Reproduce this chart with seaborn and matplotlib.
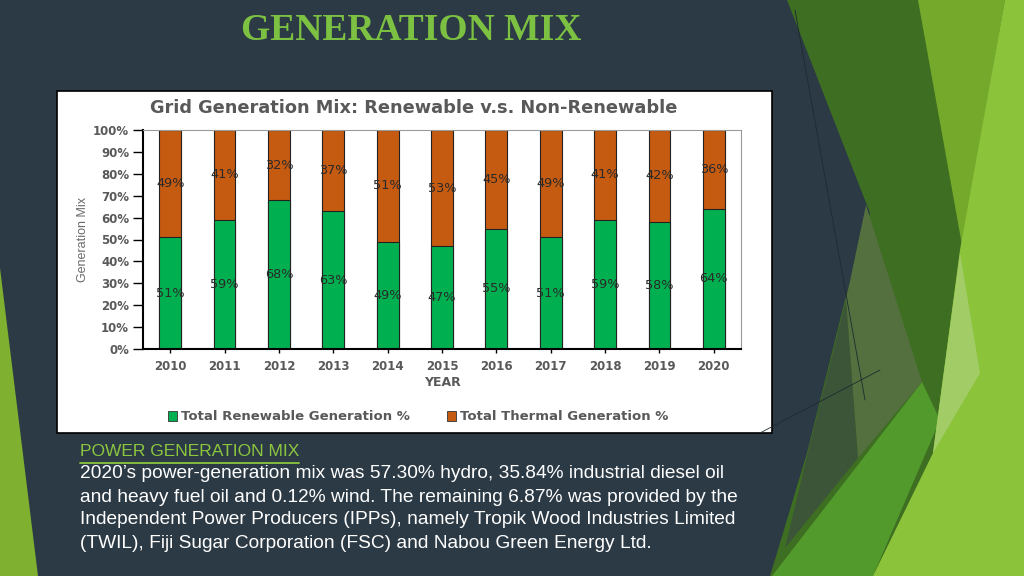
import matplotlib
matplotlib.use("Agg")
import matplotlib.pyplot as plt
from matplotlib.patches import Polygon, Rectangle, Patch
import seaborn as sns
import pandas as pd

# chart data
years = ["2010", "2011", "2012", "2013", "2014", "2015", "2016", "2017", "2018", "2019", "2020"]
renewable = [51, 59, 68, 63, 49, 47, 55, 51, 59, 58, 64]
thermal = [49, 41, 32, 37, 51, 53, 45, 49, 41, 42, 36]
y_ticks = [0, 10, 20, 30, 40, 50, 60, 70, 80, 90, 100]

GREEN = "#00b050"
ORANGE = "#c55a11"
GRAY = "#595959"
NAVY = "#2c3a45"

df = pd.DataFrame({"year": years, "renewable": renewable, "thermal": thermal})
df["total"] = df.renewable + df.thermal

sns.set_theme(style="white")
plt.rcParams["font.family"] = ["DejaVu Sans"]

fig = plt.figure(figsize=(10.24, 5.76), dpi=100)
fig.patch.set_facecolor(NAVY)

# slide background (pixel coords)
bg = fig.add_axes([0, 0, 1, 1])
bg.set_xlim(0, 1024)
bg.set_ylim(576, 0)
bg.axis("off")
shapes = [
    ([(787, 0), (1024, 0), (1024, 576), (770, 576), (783, 533), (807, 453), (845, 300), (870, 213)], "#3e6e22"),
    ([(866, 205), (922, 382), (858, 458), (846, 300)], "#53703e"),
    ([(846, 300), (858, 458), (785, 548), (808, 452)], "#3c5538"),
    ([(922, 382), (940, 420), (873, 576), (772, 576)], "#519a2b"),
    ([(918, 0), (1005, 0), (962, 245)], "#74a92b"),
    ([(1005, 0), (1024, 0), (1024, 576), (873, 576), (933, 453), (960, 250)], "#8bc43a"),
    ([(960, 253), (980, 373), (933, 453)], "#a2cc66"),
    ([(0, 268), (0, 576), (38, 576)], "#7fb030"),
]
for pts, col in shapes:
    bg.add_patch(Polygon(pts, closed=True, facecolor=col, edgecolor="none"))
bg.plot([795, 865], [10, 400], color="#1f2a30", lw=0.6)
bg.plot([760, 880], [433, 370], color="#1f2a30", lw=0.6)

# white picture box of the chart
bg.add_patch(Rectangle((57, 91), 715, 342, facecolor="white", edgecolor="black", lw=1.2))

bg.text(411, 30, "GENERATION MIX", ha="center", va="center", fontsize=27,
        fontweight="bold", color="#7cc142", family=["Liberation Serif", "DejaVu Serif"])
bg.text(414, 108, "Grid Generation Mix: Renewable v.s. Non-Renewable", ha="center",
        va="center", fontsize=12.8, fontweight="bold", color=GRAY)

# chart
ax = fig.add_axes([143 / 1024, 1 - 349 / 576, 598 / 1024, 219 / 576])
sns.barplot(data=df, x="year", y="total", color=ORANGE, saturation=1, width=0.4,
            edgecolor="#222222", linewidth=0.8, ax=ax)
sns.barplot(data=df, x="year", y="renewable", color=GREEN, saturation=1, width=0.4,
            edgecolor="#222222", linewidth=0.8, ax=ax)

for i, row in df.iterrows():
    ax.text(i, row.renewable / 2, f"{row.renewable}%", ha="center", va="center",
            fontsize=9.3, color="#2a2a2a")
    ax.text(i, row.renewable + row.thermal / 2, f"{row.thermal}%", ha="center",
            va="center", fontsize=9.3, color="#2a2a2a")

ax.set_xlim(-0.5, len(years) - 0.5)
ax.set_ylim(0, 100)
ax.set_yticks(y_ticks)
ax.set_yticklabels([f"{t}%" for t in y_ticks])
ax.tick_params(axis="y", direction="out", length=7, width=1, color="black",
               labelsize=8.5, labelcolor=GRAY, pad=3, left=True)
ax.tick_params(axis="x", direction="inout", length=6, width=1, color="black",
               labelsize=8.5, labelcolor=GRAY, pad=5, bottom=True)
for lab in ax.get_xticklabels() + ax.get_yticklabels():
    lab.set_fontweight("bold")
ax.set_xlabel("YEAR", fontsize=9, fontweight="bold", color=GRAY, labelpad=2)
ax.set_ylabel("Generation Mix", fontsize=9, color="#6a6a6a", labelpad=3,
              family=["Liberation Sans", "DejaVu Sans"])
for side in ["left", "bottom"]:
    ax.spines[side].set_color("black")
    ax.spines[side].set_linewidth(1.5)
for side in ["top", "right"]:
    ax.spines[side].set_color("#9a9a9a")
    ax.spines[side].set_linewidth(0.8)

handles = [Patch(facecolor=GREEN, edgecolor="#333333", lw=0.6),
           Patch(facecolor=ORANGE, edgecolor="#333333", lw=0.6)]
leg = fig.legend(handles, ["Total Renewable Generation %", "Total Thermal Generation %"],
                 loc="center", bbox_to_anchor=(418 / 1024, 1 - 417 / 576), ncol=2,
                 frameon=False, handlelength=0.7, handleheight=0.7, handletextpad=0.3,
                 columnspacing=2.8, prop={"size": 9.5, "weight": "bold"})
for t in leg.get_texts():
    t.set_color(GRAY)

# caption under the chart
body_font = ["Liberation Sans", "DejaVu Sans"]
bg.text(80, 452, "POWER GENERATION MIX", ha="left", va="center", fontsize=12.5,
        color="#8cc63f", family=body_font)
bg.plot([80, 299], [463, 463], color="#8cc63f", lw=1.3)
lines = [
    "2020\u2019s power-generation mix was 57.30% hydro, 35.84% industrial diesel oil",
    "and heavy fuel oil and 0.12% wind. The remaining 6.87% was provided by the",
    "Independent Power Producers (IPPs), namely Tropik Wood Industries Limited",
    "(TWIL), Fiji Sugar Corporation (FSC) and Nabou Green Energy Ltd.",
]
for k, line in enumerate(lines):
    bg.text(80, 474 + 23 * k, line, ha="left", va="center", fontsize=13.8,
            color="white", family=body_font)

fig.savefig("out.png", dpi=100, facecolor=fig.get_facecolor())
